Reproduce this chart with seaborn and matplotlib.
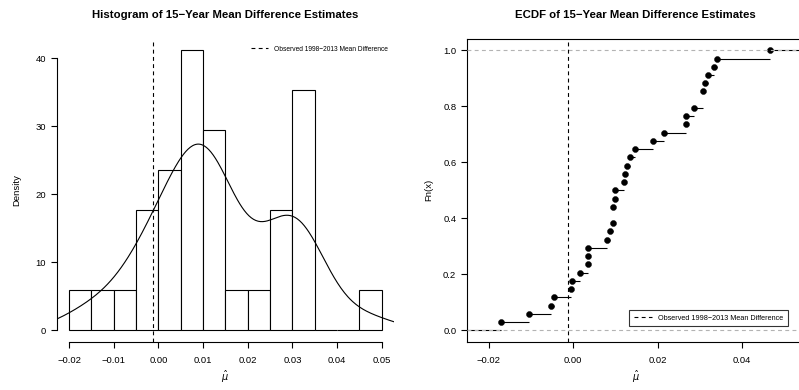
import numpy as np
import pandas as pd
import matplotlib
matplotlib.use("Agg")
import matplotlib.pyplot as plt
import seaborn as sns

# ---- data ----
estimates = [-0.0172, -0.01055, -0.0052, -0.00455, -0.0006, -0.0002, 0.0015,
             0.0034, 0.0035, 0.0036, 0.0081, 0.0088, 0.0094, 0.0095, 0.0095,
             0.0098, 0.0099, 0.0121, 0.0122, 0.0128, 0.0134, 0.0147, 0.0188,
             0.0215, 0.0267, 0.0268, 0.0287, 0.0307, 0.0307, 0.0313, 0.0320,
             0.0334, 0.0340, 0.0467]
observed_diff = -0.0013
hist_xticks = [-0.02, -0.01, 0.00, 0.01, 0.02, 0.03, 0.04, 0.05]
hist_yticks = [0, 10, 20, 30, 40]
ecdf_xticks = [-0.02, 0.00, 0.02, 0.04]
ecdf_yticks = [0.0, 0.2, 0.4, 0.6, 0.8, 1.0]
legend_label = "Observed 1998\u22122013 Mean Difference"
title_hist = "Histogram of 15\u2212Year Mean Difference Estimates"
title_ecdf = "ECDF of 15\u2212Year Mean Difference Estimates"

sns.set_theme(style="white")
plt.rcParams['font.family'] = ['Liberation Sans', 'DejaVu Sans']
plt.rcParams['mathtext.fontset'] = 'dejavusans'
plt.rcParams['axes.unicode_minus'] = True
for k in ['text.color', 'axes.labelcolor', 'xtick.color', 'ytick.color',
          'axes.edgecolor']:
    plt.rcParams[k] = 'black'

df = pd.DataFrame({"mu": estimates})
x = np.array(estimates)
n = len(x)

W, H = 799, 390
fig = plt.figure(figsize=(W / 100, H / 100), dpi=100)

def rect(l, t, r, b):
    return [l / W, 1 - b / H, (r - l) / W, (b - t) / H]

LW = 0.8
tick_fs = 6.8
dash = (0, (3.5, 3))

# ---------------- Left: histogram + KDE ----------------
ax1 = fig.add_axes(rect(56.5, 39.1, 394.2, 341.5))
edges = np.linspace(-0.02, 0.05, 15)
sns.histplot(data=df, x="mu", bins=edges, stat="density", color="white",
             edgecolor="black", linewidth=LW, alpha=1, ax=ax1)
sd = x.std(ddof=1)
q75, q25 = np.percentile(x, [75, 25])
bw_nrd0 = 0.9 * min(sd, (q75 - q25) / 1.34)
sns.kdeplot(data=df, x="mu", bw_adjust=bw_nrd0 / sd, cut=3, gridsize=400,
            color="black", linewidth=LW, ax=ax1)
ax1.axvline(observed_diff, color="black", linewidth=LW, linestyle=dash,
            label=legend_label)
ax1.set_xlim(-0.0228, 0.0528)
ax1.set_ylim(-0.04 * 41.18, 41.18 * 1.04)
ax1.set_xticks(hist_xticks)
ax1.set_xticklabels([f"{v:.2f}".replace("-", "\u2212") for v in hist_xticks])
ax1.set_yticks(hist_yticks)
ax1.set_yticklabels([str(v) for v in hist_yticks])
for s in ["top", "right"]:
    ax1.spines[s].set_visible(False)
ax1.spines["left"].set_bounds(0, 40)
ax1.spines["bottom"].set_bounds(-0.02, 0.05)
for s in ["left", "bottom"]:
    ax1.spines[s].set_linewidth(LW)
    ax1.spines[s].set_color("black")
ax1.tick_params(axis="both", length=4.5, width=LW, color="black",
                labelsize=tick_fs, direction="out", bottom=True, left=True,
                labelcolor="black")
ax1.tick_params(axis="x", pad=6)
ax1.tick_params(axis="y", pad=3)
ax1.set_xlabel(r"$\hat{\mu}$", fontsize=7, labelpad=3)
ax1.set_ylabel("Density", fontsize=tick_fs, labelpad=10.2)
ax1.set_title(title_hist, fontsize=8.2, fontweight="bold", pad=15,
              color="black")
ax1.legend(loc="upper right", bbox_to_anchor=(1.0, 1.0), frameon=False,
           fontsize=4.8, handlelength=2.6, borderaxespad=0.6)

# ---------------- Right: ECDF ----------------
ax2 = fig.add_axes(rect(466.7, 39.1, 804.2, 341.5))
xl = (-0.02527, 0.05477)
u = np.unique(x)
F = np.array([np.mean(x <= v) for v in u])
starts = np.concatenate([[xl[0]], u])
ends = np.concatenate([u, [xl[1]]])
levels = np.concatenate([[0.0], F])
ax2.hlines(levels, starts, ends, color="black", linewidth=LW, zorder=2)
ecdf_df = pd.DataFrame({"mu": u, "Fn": F})
sns.scatterplot(data=ecdf_df, x="mu", y="Fn", color="black", s=19,
                edgecolor="black", linewidth=0.3, zorder=3, ax=ax2)
for h in [0, 1]:
    ax2.axhline(h, color="#B3B3B3", linewidth=LW, linestyle=dash, zorder=4)
ax2.axvline(observed_diff, color="black", linewidth=LW, linestyle=dash,
            label=legend_label, zorder=5)
ax2.set_xlim(*xl)
ax2.set_ylim(-0.04, 1.04)
ax2.set_xticks(ecdf_xticks)
ax2.set_xticklabels([f"{v:.2f}".replace("-", "\u2212") for v in ecdf_xticks])
ax2.set_yticks(ecdf_yticks)
ax2.set_yticklabels([f"{v:.1f}" for v in ecdf_yticks])
for s in ax2.spines.values():
    s.set_visible(True)
    s.set_linewidth(LW)
    s.set_color("black")
ax2.tick_params(axis="both", length=4.5, width=LW, color="black",
                labelsize=tick_fs, direction="out", bottom=True, left=True,
                labelcolor="black")
ax2.tick_params(axis="x", pad=6)
ax2.tick_params(axis="y", pad=3)
ax2.set_xlabel(r"$\hat{\mu}$", fontsize=7, labelpad=3)
ax2.set_ylabel("Fn(x)", fontsize=tick_fs, labelpad=7)
ax2.set_title(title_ecdf, fontsize=8.2, fontweight="bold", pad=15,
              color="black")
leg = ax2.legend(loc="lower right", bbox_to_anchor=(0.951, 0.0513),
                 frameon=True, fancybox=False, fontsize=5.2, handlelength=2.6,
                 borderaxespad=0, borderpad=0.6)
leg.get_frame().set_edgecolor("black")
leg.get_frame().set_linewidth(LW)

fig.savefig("out.png", dpi=100)
